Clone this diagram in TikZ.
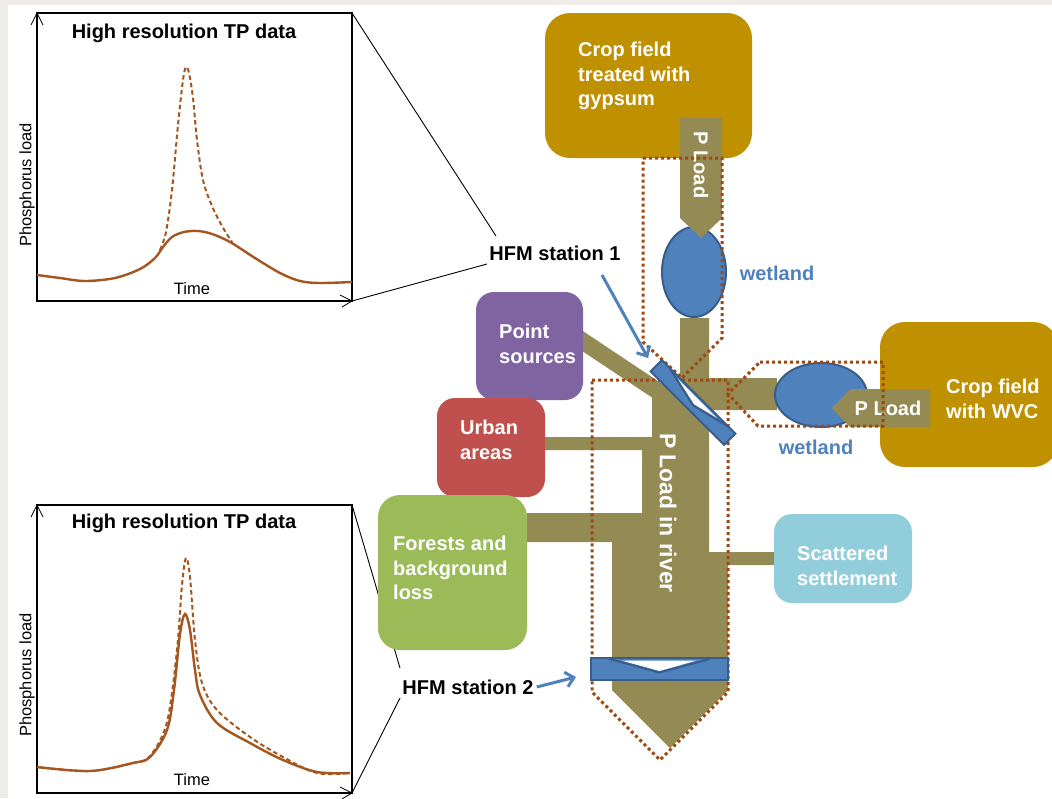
\documentclass[tikz,border=0pt]{standalone}
\usepackage{fontspec}
\setmainfont{Liberation Sans}
\usetikzlibrary{arrows.meta,shapes.geometric,calc}
\definecolor{bgray}{HTML}{EEEBE8}
\definecolor{gold}{HTML}{BF9000}
\definecolor{oliv}{HTML}{948A54}
\definecolor{wblue}{HTML}{4F81BD}
\definecolor{wblueD}{HTML}{385D8A}
\definecolor{purp}{HTML}{8064A2}
\definecolor{ured}{HTML}{C0504D}
\definecolor{fgreen}{HTML}{9BBB59}
\definecolor{sblue}{HTML}{92CDDC}
\definecolor{curvec}{HTML}{A5561E}
\definecolor{dotc}{HTML}{A0480F}
\begin{document}
\begin{tikzpicture}[x=1pt,y=-1pt,
  boxlbl/.style={font=\bfseries\fontsize{20}{24.5}\selectfont, text=white, align=left, anchor=west, inner sep=0pt},
  rbox/.style={rounded corners=#1, draw=none, inner sep=0pt, outer sep=0pt},
  rbox/.default=18pt,
  dotline/.style={draw=dotc, line width=3pt, dash pattern=on 3pt off 3pt},
  plotbox/.style={draw=black, line width=1.8pt},
  chev/.style={draw=black, line width=0.8pt},
  solidc/.style={draw=curvec, line width=2.4pt, smooth, tension=0.55},
  dashc/.style={draw=curvec, line width=2pt, dash pattern=on 4.5pt off 3pt, smooth, tension=0.55},
  zoomline/.style={draw=black, line width=0.9pt},
  hfm/.style={font=\bfseries\fontsize{20}{24}\selectfont, inner sep=0pt},
  plottitle/.style={font=\bfseries\fontsize{20}{24}\selectfont, inner sep=0pt},
  axlbl/.style={font=\fontsize{16.5}{20}\selectfont, inner sep=0pt},
  barrow/.style={draw=wblue, line width=3pt, -{Straight Barb[length=8pt,width=15pt]}},
  wet/.style={ellipse, fill=wblue, draw=wblueD, line width=2pt, inner sep=0pt},
  wetlbl/.style={font=\bfseries\fontsize{20}{24}\selectfont, text=wblue, inner sep=0pt},
  ploadlbl/.style={font=\bfseries\fontsize{20}{24}\selectfont, text=white, inner sep=0pt},
  station/.style={fill=wblue, draw=wblueD, line width=2pt}
]
\useasboundingbox (0,0) rectangle (1052,798);
\fill[white] (0,0) rectangle (1052,798);
\fill[bgray] (0,0) rectangle (1052,5);
\fill[bgray] (0,0) rectangle (8,798);

% ---------- top plot ----------
\draw[plotbox] (37,13) rectangle (352,301);
\draw[chev] (31,25) -- (37,13) -- (43,25);
\draw[chev] (340,295) -- (352,301) -- (342,307);
\node[plottitle] (t1) at (184,33) {High resolution TP data};
\node[axlbl, rotate=90] (y1) at (27,185) {Phosphorus load};
\node[axlbl] (x1) at (192,289) {Time};
\draw[dashc] plot coordinates {(160,250) (166,232) (172,190) (178,125) (183,80) (186,67) (189,73) (193,98) (197,140) (203,180) (212,206) (222,226) (232,242)};
\draw[solidc] plot coordinates {(37,275) (60,278) (85,281) (115,278) (140,269) (155,258) (163,247) (172,237) (184,232) (198,231) (212,234) (230,242) (255,258) (280,273) (300,281) (320,283) (352,282)};

% ---------- bottom plot ----------
\draw[plotbox] (37,505) rectangle (352,793);
\draw[chev] (31,517) -- (37,505) -- (43,517);
\draw[chev] (340,787) -- (352,793) -- (342,799);
\node[plottitle] (t2) at (184,523) {High resolution TP data};
\node[axlbl, rotate=90] (y2) at (27,675) {Phosphorus load};
\node[axlbl] (x2) at (192,780) {Time};
\draw[dashc] plot coordinates {(37,767) (90,771) (133,763) (150,756) (167,722) (177,650) (182,585) (186,558) (190,577) (195,640) (202,683) (217,710) (250,737) (283,757) (317,773) (350,773)};
\draw[solidc] plot coordinates {(37,767) (90,771) (133,763) (150,757) (167,730) (174,690) (180,634) (185,614) (190,630) (195,670) (200,695) (217,723) (250,743) (283,760) (317,772) (350,773)};

% ---------- zoom lines ----------
\coordinate (p1tr) at (352,13);
\coordinate (p1br) at (352,301);
\coordinate (p2tr) at (352,505);
\coordinate (p2br) at (352,793);
\coordinate (z1a) at (496,236);
\coordinate (z1b) at (487,264);
\coordinate (z2a) at (400,668);
\coordinate (z2b) at (400,698);
\draw[zoomline] (p1tr) -- (z1a);
\draw[zoomline] (p1br) -- (z1b);
\draw[zoomline] (p2tr) -- (z2a);
\draw[zoomline] (p2br) -- (z2b);

\node[hfm] (hfm1) at (555,253) {HFM station 1};
\node[hfm] (hfm2) at (468,687) {HFM station 2};

% ---------- river (olive) ----------
\draw[oliv, line width=17pt] (560,326) -- (680,406);
\fill[oliv] (652,398) -- (652,437) -- (544,437) -- (544,450) -- (642,450) -- (642,513) -- (527,513) -- (527,542) -- (612,542) -- (612,690) -- (670,748) -- (728,690) -- (728,565) -- (775,565) -- (775,552) -- (709,552) -- (709,410) -- (777,410) -- (777,378) -- (709,378) -- (709,318) -- (680,318) -- (680,398) -- cycle;

% ---------- source boxes ----------
\node[rbox, fill=purp, minimum width=107pt, minimum height=108pt] (ps) at (529.5,346) {};
\node[rbox, fill=ured, minimum width=108pt, minimum height=99pt] (ua) at (491,447.5) {};
\node[rbox=22pt, fill=fgreen, minimum width=149pt, minimum height=155pt] (fb) at (452.5,572.5) {};
\node[rbox, fill=sblue, minimum width=138pt, minimum height=89pt] (ss) at (843,558.5) {};
\node[rbox=25pt, fill=gold, minimum width=207pt, minimum height=145pt] (gyp) at (648.5,85.5) {};
\node[rbox=25pt, fill=gold, minimum width=178pt, minimum height=145pt] (wvc) at (969,394.5) {};

\node[boxlbl] (psl) at (499,344) {Point\\sources};
\node[boxlbl] (ual) at (460,440) {Urban\\areas};
\node[boxlbl] (fbl) at (393,568) {Forests and\\background\\loss};
\node[boxlbl] (ssl) at (797,566) {Scattered\\settlement};
\node[boxlbl] (gypl) at (578,76) {Crop field\\treated with\\gypsum};
\node[boxlbl] (wvcl) at (946,399) {Crop field\\with WVC};

% ---------- wetlands ----------
\node[wet, minimum width=64pt, minimum height=90pt] (wl1) at (694,272) {};
\node[wet, minimum width=92pt, minimum height=64pt] (wl2) at (821,395) {};
\node[wetlbl] (wl1l) at (777,273) {wetland};
\node[wetlbl] (wl2l) at (816,447) {wetland};

% ---------- P load arrows ----------
\fill[oliv] (680,118) -- (722,118) -- (722,218) -- (701,238) -- (680,218) -- cycle;
\fill[oliv] (930,389) -- (930,427) -- (850,427) -- (832,408) -- (850,389) -- cycle;
\node[ploadlbl, rotate=-90] (pl1) at (701,165) {P Load};
\node[ploadlbl] (pl2) at (888,408) {P Load};
\node[font=\bfseries\fontsize{23}{26}\selectfont, text=white, inner sep=0pt, rotate=-90] (plr) at (668,513) {P Load in river};

% ---------- dotted outlines ----------
\draw[dotline] (643,158) -- (722,158) -- (722,338) -- (682,378) -- (643,342) -- cycle;
\draw[dotline] (760,362) -- (883,362) -- (883,426) -- (758,426) -- (728,394) -- cycle;
\draw[dotline] (592,380) -- (728,380) -- (728,692) -- (660,760) -- (592,692) -- cycle;

% ---------- stations ----------
\begin{scope}[shift={(693,402.5)}, rotate=-45]
  \draw[station] (-52,-8) rectangle (52,8);
  \fill[white] (-28,-6) -- (28,-6) -- (2,0.5) -- cycle;
  \draw[wblueD, line width=2pt] (-42,-8) -- (2,2) -- (42,-8);
\end{scope}
\begin{scope}[shift={(659.5,669)}]
  \draw[station] (-68.5,-11) rectangle (68.5,11);
  \fill[white] (-38,-8.5) -- (37,-8.5) -- (0,2) -- cycle;
  \draw[wblueD, line width=2pt] (-50,-10) -- (0,3.5) -- (50,-10);
\end{scope}

% ---------- HFM arrows ----------
\coordinate (a1s) at (602,275);
\coordinate (a1e) at (648,358);
\coordinate (a2e) at (576,677);
\draw[barrow] (a1s) -- (a1e);
\draw[barrow] ([xshift=3pt]hfm2.east) -- (a2e);
\end{tikzpicture}
\end{document}
